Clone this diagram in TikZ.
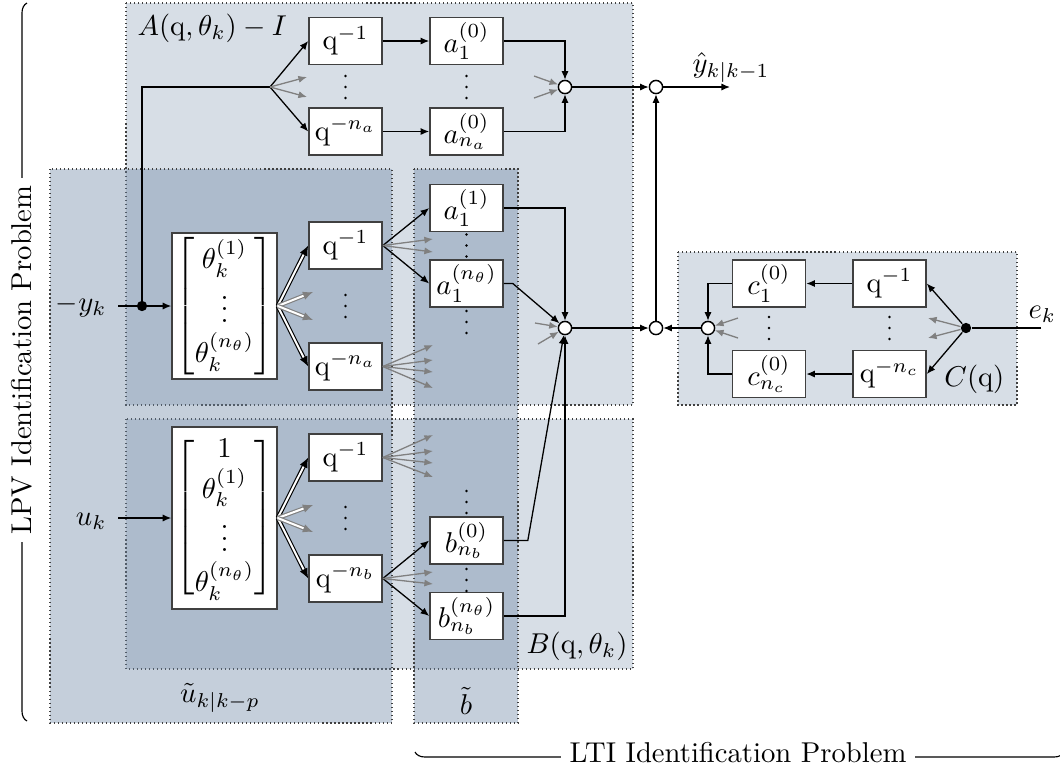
\documentclass[tikz,border=0pt]{standalone}
\usepackage{amsmath}
\usetikzlibrary{arrows.meta,decorations.pathreplacing,calc}
\definecolor{regcol}{RGB}{110,135,165}
\definecolor{boxedge}{RGB}{64,64,64}
\begin{document}
\begin{tikzpicture}[x=0.349pt,y=-0.349pt,
  region/.style={fill=regcol, draw=black!75, densely dotted},
  blk/.style={draw=boxedge, fill=white, line width=0.55pt, minimum width=25.5pt, minimum height=16.4pt, inner sep=1pt},
  mat/.style={draw=boxedge, fill=white, line width=0.55pt, minimum width=36.6pt, inner sep=1pt},
  sumn/.style={circle, draw=black, fill=white, minimum size=4.6pt, inner sep=0pt, line width=0.5pt},
  dotn/.style={circle, fill=black, minimum size=3.6pt, inner sep=0pt},
  arr/.style={-{Latex[length=3pt,width=2.5pt]}, line width=0.45pt},
  garr/.style={arr, draw=black!50, fill=black!50},
  darr/.style={double=white, double distance=0.7pt, line width=0.4pt, -{Latex[length=3.5pt,width=3pt]}},
  gdarr/.style={darr, draw=black!50},
  lab/.style={inner sep=0pt},
  vdts/.pic={\fill (0,-11) circle (1.4); \fill (0,0) circle (1.4); \fill (0,11) circle (1.4);},
]
\useasboundingbox (0,0) rectangle (1060,774);
% regions
\path[region, fill opacity=0.28] (126,3) rectangle (633,405);
\path[region, fill opacity=0.28] (126,419) rectangle (633,669);
\path[region, fill opacity=0.40] (50,169) rectangle (392,723);
\path[region, fill opacity=0.40] (414,169) rectangle (518,723);
\path[region, fill opacity=0.28] (678,252) rectangle (1017,405);
% region labels
\node[lab, anchor=base west] (labA) at (137,35) {$A(\mathrm{q},\theta_k)-I$};
\node[lab, anchor=base east] (labB) at (628,653) {$B(\mathrm{q},\theta_k)$};
\node[lab, anchor=base east] (labC) at (1005,386) {$C(\mathrm{q})$};
\node[lab] (labU) at (220,698) {$\tilde{u}_{k|k-p}$};
\node[lab] (labb) at (466,701) {$\tilde{b}$};
% top group
\node[blk] (qa1) at (345.5,41) {$\mathrm{q}^{-1}$};
\node[blk] (qana) at (345.5,131.5) {$\mathrm{q}^{-n_a}$};
\node[blk] (a10) at (466.5,41) {$a_1^{(0)}$};
\node[blk] (ana0) at (466.5,131.5) {$a_{n_a}^{(0)}$};
\node[sumn] (sumA) at (565,87) {};
\node[sumn] (sumY) at (656,87) {};
\coordinate (sp) at (270,87);
\coordinate (yend) at (730,87);
\node[lab, anchor=base west] (labY) at (692,72) {$\hat{y}_{k|k-1}$};
\pic at (345.5,87) {vdts};
\pic at (466.5,87) {vdts};
% middle group
\node[mat, minimum height=51pt] (thA) at (224.5,306) {$\begin{bmatrix}\theta_k^{(1)}\\ \vdots\\ \theta_k^{(n_\theta)}\end{bmatrix}$};
\node[blk] (qm1) at (345.5,245.5) {$\mathrm{q}^{-1}$};
\node[blk] (qmna) at (345.5,366.5) {$\mathrm{q}^{-n_a}$};
\node[blk] (a11) at (466.5,208) {$a_1^{(1)}$};
\node[blk] (a1n) at (466.5,283.5) {$a_1^{(n_\theta)}$};
\node[sumn] (sumM) at (565,328) {};
\node[sumn] (sumL) at (656,328) {};
\coordinate (ystart) at (118,306);
\node[lab, anchor=base east] (labyk) at (107,311) {$-y_k$};
\pic at (345.5,306) {vdts};
\pic at (466.5,245.5) {vdts};
\pic at (466.5,322) {vdts};
% bottom group
\node[mat, minimum height=63.5pt] (thB) at (224.5,518) {$\begin{bmatrix}1\\ \theta_k^{(1)}\\ \vdots\\ \theta_k^{(n_\theta)}\end{bmatrix}$};
\node[blk] (qb1) at (345.5,457.5) {$\mathrm{q}^{-1}$};
\node[blk] (qbnb) at (345.5,578.5) {$\mathrm{q}^{-n_b}$};
\node[blk] (bnb0) at (466.5,540.5) {$b_{n_b}^{(0)}$};
\node[blk] (bnbn) at (466.5,616) {$b_{n_b}^{(n_\theta)}$};
\coordinate (ustart) at (118,518);
\node[lab, anchor=base east] (labuk) at (107,525) {$u_k$};
\pic at (345.5,518) {vdts};
\pic at (466.5,502) {vdts};
\pic at (466.5,580) {vdts};
% C group
\node[blk] (c1) at (769,283.5) {$c_1^{(0)}$};
\node[blk] (cnc) at (769,374) {$c_{n_c}^{(0)}$};
\node[blk] (qc1) at (889.5,283.5) {$\mathrm{q}^{-1}$};
\node[blk] (qcnc) at (889.5,374) {$\mathrm{q}^{-n_c}$};
\node[sumn] (sumC) at (708,328) {};
\coordinate (eEnd) at (1041,328);
\node[lab, anchor=base west] (labek) at (1028,318) {$e_k$};
\pic at (769,328) {vdts};
\pic at (889.5,328) {vdts};
% gray free ends
\coordinate (g1) at (307,77);  \coordinate (g2) at (307,97);
\coordinate (g3) at (534,76);  \coordinate (g4) at (534,98);
\coordinate (g5) at (313,292); \coordinate (g6) at (313,320);
\coordinate (g7) at (433,239); \coordinate (g8) at (433,252);
\coordinate (g9) at (433,345); \coordinate (g10) at (433,360);
\coordinate (g11) at (433,372); \coordinate (g12) at (433,388);
\coordinate (g13) at (535,323); \coordinate (g14) at (538,344);
\coordinate (g15) at (313,505); \coordinate (g16) at (313,532);
\coordinate (g17) at (433,435); \coordinate (g18) at (433,451);
\coordinate (g19) at (433,463); \coordinate (g20) at (433,477);
\coordinate (g21) at (433,572); \coordinate (g22) at (433,584);
\coordinate (g23) at (928,318); \coordinate (g24) at (928,338);
\coordinate (g25) at (738,318); \coordinate (g26) at (738,338);
% connectors: top
\draw[line width=0.45pt] (142,306) |- (sp);
\draw[arr] (sp) -- (qa1.west);
\draw[arr] (sp) -- (qana.west);
\draw[garr] (sp) -- (g1);
\draw[garr] (sp) -- (g2);
\draw[arr] (qa1) -- (a10);
\draw[arr] (qana) -- (ana0);
\draw[arr] (a10.east) -| (sumA);
\draw[arr] (ana0.east) -| (sumA);
\draw[garr] (g3) -- (sumA);
\draw[garr] (g4) -- (sumA);
\draw[arr] (sumA) -- (sumY);
\draw[arr] (sumY) -- (yend);
\draw[arr] (sumL) -- (sumY);
% middle
\draw[arr] (ystart) -- (thA.west);
\node[dotn] (dotY) at (142,306) {};
\draw[darr] (thA.east) -- (qm1.west);
\draw[darr] (thA.east) -- (qmna.west);
\draw[gdarr] (thA.east) -- (g5);
\draw[gdarr] (thA.east) -- (g6);
\draw[arr] (qm1.east) -- (a11.west);
\draw[arr] (qm1.east) -- (a1n.west);
\draw[garr] (qm1.east) -- (g7);
\draw[garr] (qm1.east) -- (g8);
\draw[garr] (qmna.east) -- (g9);
\draw[garr] (qmna.east) -- (g10);
\draw[garr] (qmna.east) -- (g11);
\draw[garr] (qmna.east) -- (g12);
\draw[arr] (a11.east) -| (sumM);
\draw[arr] (a1n.east) -- ++(9,0) -- (sumM);
\draw[garr] (g13) -- (sumM);
\draw[garr] (g14) -- (sumM);
\draw[arr] (sumM) -- (sumL);
% bottom
\draw[arr] (ustart) -- (thB.west);
\draw[darr] (thB.east) -- (qb1.west);
\draw[darr] (thB.east) -- (qbnb.west);
\draw[gdarr] (thB.east) -- (g15);
\draw[gdarr] (thB.east) -- (g16);
\draw[garr] (qb1.east) -- (g17);
\draw[garr] (qb1.east) -- (g18);
\draw[garr] (qb1.east) -- (g19);
\draw[garr] (qb1.east) -- (g20);
\draw[arr] (qbnb.east) -- (bnb0.west);
\draw[arr] (qbnb.east) -- (bnbn.west);
\draw[garr] (qbnb.east) -- (g21);
\draw[garr] (qbnb.east) -- (g22);
\draw[arr] (bnb0.east) -- ++(24,0) -- (sumM);
\draw[arr] (bnbn.east) -| (sumM);
% C
\node[dotn] (dotE) at (966,328) {};
\draw[line width=0.45pt] (eEnd) -- (dotE);
\draw[arr] (dotE) -- (qc1.east);
\draw[arr] (dotE) -- (qcnc.east);
\draw[garr] (dotE) -- (g23);
\draw[garr] (dotE) -- (g24);
\draw[arr] (qc1) -- (c1);
\draw[arr] (qcnc) -- (cnc);
\draw[arr] (c1.west) -| (sumC);
\draw[arr] (cnc.west) -| (sumC);
\draw[garr] (g25) -- (sumC);
\draw[garr] (g26) -- (sumC);
\draw[arr] (sumC) -- (sumL);
% braces
\draw[decorate, decoration={brace, amplitude=3.5pt}] (27,721) -- (27,3);
\node[fill=white, rotate=90, inner xsep=2.5pt, inner ysep=1pt] (lpv) at (21.5,360) {LPV Identification Problem};
\draw[decorate, decoration={brace, amplitude=3.5pt}] (1064,752) -- (415,752);
\node[fill=white, inner xsep=3pt, inner ysep=1pt] (lti) at (738,753) {LTI Identification Problem};
\end{tikzpicture}
\end{document}
